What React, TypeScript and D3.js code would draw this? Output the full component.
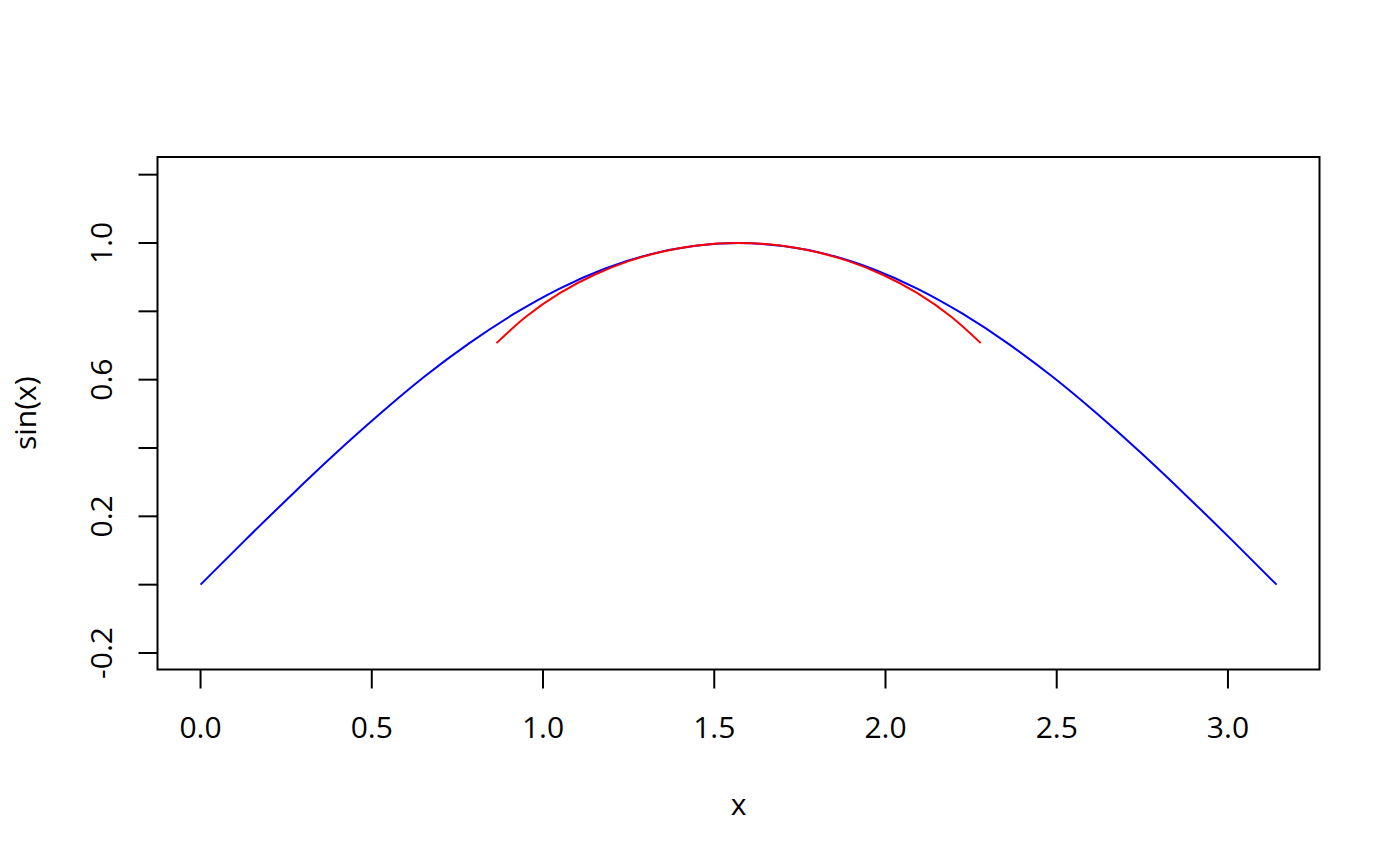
import { useEffect, useRef } from "react";
import * as d3 from "d3";

// values (x, sin(x)) - blue curve
const blueX = [0.0, 0.131, 0.262, 0.393, 0.524, 0.654, 0.785, 0.916, 1.047, 1.178, 1.309, 1.44, 1.571, 1.702, 1.833, 1.963, 2.094, 2.225, 2.356, 2.487, 2.618, 2.749, 2.88, 3.011, 3.142];
const blueY = [0.0, 0.131, 0.259, 0.383, 0.5, 0.609, 0.707, 0.793, 0.866, 0.924, 0.966, 0.991, 1.0, 0.991, 0.966, 0.924, 0.866, 0.793, 0.707, 0.609, 0.5, 0.383, 0.259, 0.131, 0.0];

// red arc near the peak
const redX = [0.864, 0.95, 1.05, 1.15, 1.25, 1.35, 1.45, 1.571, 1.692, 1.792, 1.892, 1.992, 2.092, 2.192, 2.278];
const redY = [0.707, 0.784, 0.854, 0.907, 0.947, 0.975, 0.993, 1.0, 0.993, 0.975, 0.947, 0.907, 0.854, 0.784, 0.707];

const xTicks = [0, 0.5, 1.0, 1.5, 2.0, 2.5, 3.0];
const yTicks = [-0.2, 0, 0.2, 0.4, 0.6, 0.8, 1.0, 1.2];
const yLabels = [-0.2, 0.2, 0.6, 1.0];

export default function App() {
  const ref = useRef<SVGSVGElement>(null);

  useEffect(() => {
    if (!ref.current) return;
    const width = 1400;
    const height = 866;
    const left = 157.5, right = 1319.5, top = 157, bottom = 669.5;
    const font = "'Open Sans', 'Noto Sans', sans-serif";
    const fs = 30;

    const svg = d3.select(ref.current);
    svg.selectAll("*").remove();
    svg.append("rect").attr("width", width).attr("height", height).attr("fill", "#fff");

    const x = d3.scaleLinear().domain([-0.1257, 3.2673]).range([left, right]);
    const y = d3.scaleLinear().domain([-0.2483, 1.2517]).range([bottom, top]);

    const line = d3.line<[number, number]>()
      .x((d) => x(d[0]))
      .y((d) => y(d[1]))
      .curve(d3.curveNatural);

    svg.append("path")
      .attr("d", line(blueX.map((v, i) => [v, blueY[i]]) as [number, number][]))
      .attr("fill", "none")
      .attr("stroke", "#0000ff")
      .attr("stroke-width", 2);

    svg.append("path")
      .attr("d", line(redX.map((v, i) => [v, redY[i]]) as [number, number][]))
      .attr("fill", "none")
      .attr("stroke", "#ff0000")
      .attr("stroke-width", 2);

    // frame
    svg.append("rect")
      .attr("x", left).attr("y", top)
      .attr("width", right - left).attr("height", bottom - top)
      .attr("fill", "none").attr("stroke", "#000").attr("stroke-width", 2);

    // x axis
    const xg = svg.append("g");
    xg.selectAll("line").data(xTicks).enter().append("line")
      .attr("x1", (d) => x(d)).attr("x2", (d) => x(d))
      .attr("y1", bottom).attr("y2", bottom + 19)
      .attr("stroke", "#000").attr("stroke-width", 2);
    xg.selectAll("text").data(xTicks).enter().append("text")
      .attr("x", (d) => x(d)).attr("y", 738)
      .attr("text-anchor", "middle")
      .attr("font-family", font).attr("font-size", fs)
      .text((d) => d.toFixed(1));

    // y axis
    const yg = svg.append("g");
    yg.selectAll("line").data(yTicks).enter().append("line")
      .attr("x1", left - 19).attr("x2", left)
      .attr("y1", (d) => y(d)).attr("y2", (d) => y(d))
      .attr("stroke", "#000").attr("stroke-width", 2);
    yg.selectAll("text").data(yLabels).enter().append("text")
      .attr("transform", (d) => `translate(112,${y(d)}) rotate(-90)`)
      .attr("text-anchor", "middle")
      .attr("font-family", font).attr("font-size", fs)
      .text((d) => d.toFixed(1));

    // axis titles
    svg.append("text")
      .attr("x", (left + right) / 2).attr("y", 815)
      .attr("text-anchor", "middle")
      .attr("font-family", font).attr("font-size", fs)
      .text("x");
    svg.append("text")
      .attr("transform", `translate(36,${(top + bottom) / 2}) rotate(-90)`)
      .attr("text-anchor", "middle")
      .attr("font-family", font).attr("font-size", fs)
      .text("sin(x)");
  }, []);

  return (
    <svg
      ref={ref}
      width={1400}
      height={866}
      style={{ position: "absolute", left: 0, top: 0 }}
    />
  );
}
